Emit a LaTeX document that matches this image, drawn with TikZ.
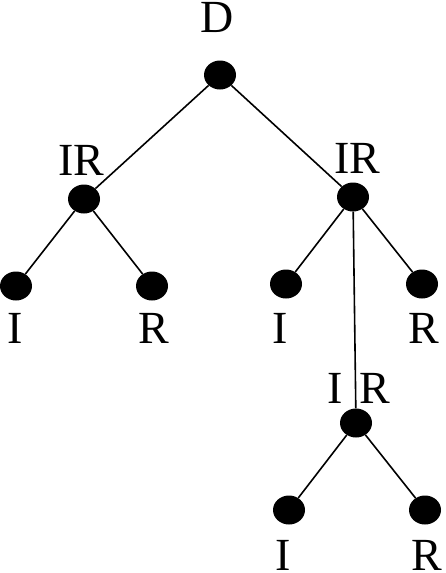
\documentclass[tikz,border=0pt]{standalone}
\usepackage{fontspec}
\setmainfont{Liberation Serif}
\usetikzlibrary{shapes.geometric}
\tikzset{
  dot/.style={ellipse,fill=black,draw=none,minimum width=32pt,minimum height=29pt,inner sep=0pt},
  lbl/.style={anchor=base,inner sep=0pt,font=\fontsize{46}{50}\selectfont},
  edge/.style={line width=1.6pt}
}
\begin{document}
\begin{tikzpicture}[x=1pt,y=-1pt]
\useasboundingbox (0,0) rectangle (445,573);
% nodes
\node[dot] (root) at (220,75) {};
\node[dot] (lir) at (84,199) {};
\node[dot] (rir) at (353,197) {};
\node[dot] (li) at (16,286) {};
\node[dot] (lr) at (152,286) {};
\node[dot] (ri) at (286,284) {};
\node[dot] (rr) at (422,284) {};
\node[dot] (mid) at (356,423) {};
\node[dot] (bi) at (289,510) {};
\node[dot] (br) at (425,510) {};
% labels
\node[lbl] (troot) at (217,32) {D};
\node[lbl] (tlir) at (81,175) {IR};
\node[lbl] (trir) at (357,173) {IR};
\node[lbl] (tli) at (15,343) {I};
\node[lbl] (tlr) at (154,343) {R};
\node[lbl] (tri) at (280,343) {I};
\node[lbl] (trr) at (424,343) {R};
\node[lbl] (tmid) at (359,403) {I\hspace{5pt} R};
\node[lbl] (tbi) at (283,570) {I};
\node[lbl] (tbr) at (427,570) {R};
% edges
\draw[edge] (root) -- (lir);
\draw[edge] (root) -- (rir);
\draw[edge] (lir) -- (li);
\draw[edge] (lir) -- (lr);
\draw[edge] (rir) -- (ri);
\draw[edge] (rir) -- (rr);
\draw[edge] (rir) -- (mid);
\draw[edge] (mid) -- (bi);
\draw[edge] (mid) -- (br);
\end{tikzpicture}
\end{document}
